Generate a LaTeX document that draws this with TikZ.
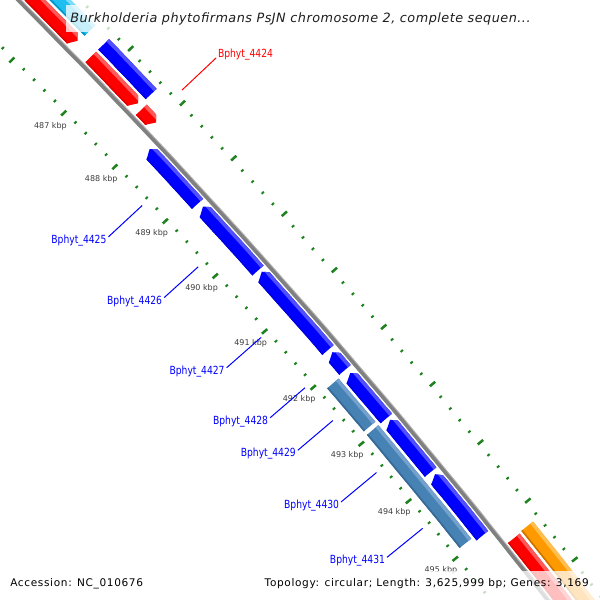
\documentclass[tikz,border=0pt]{standalone}
\usepackage{fontspec}
\setmainfont{DejaVu Sans}
\newfontfamily\titlefont[LetterSpace=3.8]{DejaVu Sans}
\newfontfamily\legfont[LetterSpace=6.2]{DejaVu Sans}
\newfontfamily\genefont[FakeStretch=0.82]{DejaVu Sans}
\newfontfamily\kbpfont{DejaVu Sans}
\definecolor{blueM}{RGB}{0,0,255}
\definecolor{blueL}{RGB}{80,80,255}
\definecolor{blueD}{RGB}{0,0,225}
\definecolor{redM}{RGB}{255,0,0}
\definecolor{redL}{RGB}{255,90,90}
\definecolor{redD}{RGB}{225,0,0}
\definecolor{steelM}{RGB}{70,130,180}
\definecolor{steelL}{RGB}{115,160,205}
\definecolor{steelD}{RGB}{55,105,150}
\definecolor{orangeM}{RGB}{255,153,0}
\definecolor{orangeL}{RGB}{255,190,80}
\definecolor{orangeD}{RGB}{205,115,0}
\definecolor{cyanM}{RGB}{30,190,240}
\definecolor{cyanL}{RGB}{120,220,250}
\definecolor{cyanD}{RGB}{0,150,200}
\definecolor{tickG}{RGB}{30,130,30}
\definecolor{bbGray}{RGB}{128,128,128}
\definecolor{bbLight}{RGB}{180,180,180}
\definecolor{kbpGray}{RGB}{60,60,60}
\newcommand\ghw{7.5}
\newcommand\garr{0.05}
\newcommand\gene[7]{%
  \pgfmathsetmacro\gro{#3+\ghw}%
  \pgfmathsetmacro\gri{#3-\ghw}%
  \pgfmathsetmacro\grc{#3+2}%
  \pgfmathsetmacro\gta{#1}%
  \pgfmathsetmacro\gtb{#2}%
  \pgfmathsetmacro\glo{#3+\ghw+1}%
  \pgfmathsetmacro\gli{#3+\ghw-3.6}%
  \pgfmathsetmacro\gdo{#3-\ghw+1.6}%
  \pgfmathsetmacro\gdi{#3-\ghw-1}%
  \pgfmathsetmacro\gtam{#1-0.1}%
  \pgfmathsetmacro\gtbp{#2+0.1}%
  \ifcase#4\relax
    \def\gpath{plot[domain=\gta:\gtb,samples=10] (\x:\gro) -- plot[domain=\gtb:\gta,samples=10] (\x:\gri) -- cycle}%
  \or
    \pgfmathsetmacro\gtc{#1+\garr}%
    \def\gpath{(\gta:\grc) -- plot[domain=\gtc:\gtb,samples=10] (\x:\gro) -- plot[domain=\gtb:\gtc,samples=10] (\x:\gri) -- cycle}%
  \or
    \pgfmathsetmacro\gtc{#2-\garr}%
    \def\gpath{plot[domain=\gta:\gtc,samples=10] (\x:\gro) -- (\gtb:\grc) -- plot[domain=\gtc:\gta,samples=10] (\x:\gri) -- cycle}%
  \fi
  \begin{scope}
    \clip \gpath;
    \fill[#5] plot[domain=\gtam:\gtbp,samples=12] (\x:\glo) -- plot[domain=\gtbp:\gtam,samples=12] (\x:\gdi) -- cycle;
    \fill[#6] plot[domain=\gtam:\gtbp,samples=12] (\x:\glo) -- plot[domain=\gtbp:\gtam,samples=12] (\x:\gli) -- cycle;
    \fill[#7] plot[domain=\gtam:\gtbp,samples=12] (\x:\gdo) -- plot[domain=\gtbp:\gtam,samples=12] (\x:\gdi) -- cycle;
  \end{scope}}
\tikzset{
  tickmaj/.style={draw=tickG,line width=1.9pt},
  tickmin/.style={draw=tickG,line width=1.5pt},
  kbp/.style={font=\kbpfont\fontsize{6}{7}\selectfont,text=kbpGray,inner sep=0pt},
  glab/.style={font=\genefont\fontsize{8.4}{9}\selectfont,inner sep=0.75pt},
  backbone/.style={draw=bbGray,line width=2.5pt},
  backlight/.style={draw=bbLight,line width=3.4pt}
}
\begin{document}
\begin{tikzpicture}[x=0.75pt,y=-0.75pt]
\useasboundingbox (0,0) rectangle (600,600);
\clip (0,0) rectangle (600,600);
\begin{scope}[shift={(-4609,4616)}]
  % ticks
  \foreach \i in {-12,...,50}{%
    \pgfmathsetmacro\tang{-43.94+0.131*\i}%
    \pgfmathtruncatemacro\mm{mod(\i+100,5)}%
    \ifnum\mm=0
      \draw[tickmaj] (\tang:6493) -- (\tang:6486);
      \draw[tickmaj] (\tang:6579) -- (\tang:6586);
    \else
      \draw[tickmin] (\tang:6493) -- (\tang:6490);
      \draw[tickmin] (\tang:6579) -- (\tang:6582);
    \fi}
  % kbp labels
  \foreach \k in {487,...,495}{%
    \pgfmathsetmacro\tang{-43.94+0.655*(\k-487)}%
    \node[kbp] (kbp\k) at (\tang:6471) {\k\ kbp};}
  % backbone
  \draw[backlight] plot[domain=-45.8:-37.2,samples=90] (\x:6536.5);
  \draw[backbone] plot[domain=-45.8:-37.2,samples=90] (\x:6536);
  % inner blue genes (reverse)
  \gene{-43.19}{-42.55}{6525}{1}{blueM}{blueL}{blueD}
  \gene{-42.50}{-41.76}{6525}{1}{blueM}{blueL}{blueD}
  \gene{-41.73}{-40.83}{6525}{1}{blueM}{blueL}{blueD}
  \gene{-40.79}{-40.60}{6525}{1}{blueM}{blueL}{blueD}
  \gene{-40.55}{-40.04}{6525}{1}{blueM}{blueL}{blueD}
  \gene{-40.01}{-39.43}{6525}{1}{blueM}{blueL}{blueD}
  \gene{-39.39}{-38.71}{6525}{1}{blueM}{blueL}{blueD}
  % steelblue
  \gene{-40.58}{-40.08}{6507}{0}{steelM}{steelL}{steelD}
  \gene{-40.04}{-38.75}{6507}{0}{steelM}{steelL}{steelD}
  % outer red
  \gene{-45.6}{-44.31}{6548}{2}{redM}{redL}{redD}
  \gene{-44.13}{-43.55}{6548}{2}{redM}{redL}{redD}
  \gene{-43.49}{-43.32}{6548}{2}{redM}{redL}{redD}
  \gene{-38.52}{-37.3}{6548}{2}{redM}{redL}{redD}
  % outer second row
  \gene{-45.6}{-44.30}{6566}{0}{cyanM}{cyanL}{cyanD}
  \gene{-44.13}{-43.53}{6566}{0}{blueM}{blueL}{blueD}
  \gene{-38.53}{-37.3}{6566}{0}{orangeM}{orangeL}{orangeD}
  % gene labels
  \foreach \gn/\ga in {4425/-42.87,4426/-42.136,4427/-41.30,4428/-40.71,4429/-40.33,4430/-39.73,4431/-39.09}{%
    \coordinate (p\gn) at (\ga:6483);
    \coordinate (q\gn) at (\ga:6437);
    \node[glab,text=blueM,anchor=east,yshift=-2.6pt,xshift=-0.6pt] (b\gn) at (q\gn) {Bphyt\_\gn};
    \draw[blueM,line width=0.75pt] (p\gn) -- (q\gn);}
  \coordinate (p4424) at (-43.37:6591);
  \node[glab,text=redM,anchor=base west,inner sep=1.2pt] (b4424) at (-43.37:6638) {Bphyt\_4424};
  \draw[redM,line width=0.75pt] (p4424) -- (b4424.base west);
\end{scope}
% title
\fill[white,opacity=0.75] (66,5) rectangle (535,32);
\node[anchor=base west,inner sep=0pt,text={rgb,255:red,30;green,30;blue,30}] (title) at (70,22.5)
  {\titlefont\fontsize{9.6}{11}\selectfont\itshape Burkholderia phytofirmans PsJN chromosome 2, complete sequen...};
% legend
\fill[white,opacity=0.75] (257,571) rectangle (600,600);
\node[anchor=base west,inner sep=0pt] (acc) at (10,586)
  {\legfont\fontsize{7.9}{9}\selectfont Accession: NC\_010676};
\node[anchor=base east,inner sep=0pt] (topo) at (589,586)
  {\legfont\fontsize{7.9}{9}\selectfont Topology: circular; Length: 3,625,999 bp; Genes: 3,169};
\end{tikzpicture}
\end{document}
